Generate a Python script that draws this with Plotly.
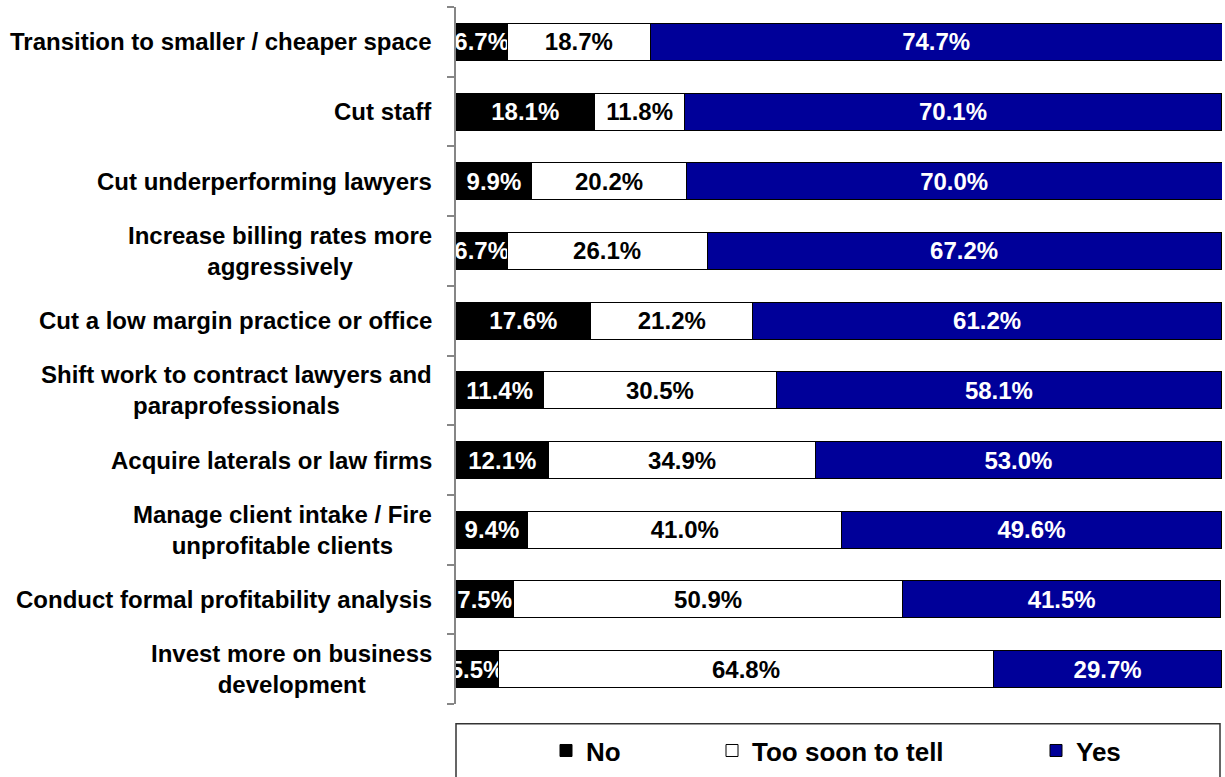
import plotly.graph_objects as go

# Survey responses: share of firms for each cost / growth measure
categories = [
    "Transition to smaller / cheaper space",
    "Cut staff",
    "Cut underperforming lawyers",
    "Increase billing rates more<br>aggressively",
    "Cut a low margin practice or office",
    "Shift work to contract lawyers and<br>paraprofessionals",
    "Acquire laterals or law firms",
    "Manage client intake / Fire<br>unprofitable clients",
    "Conduct formal profitability analysis",
    "Invest more on business<br>development",
]
no_vals = [6.7, 18.1, 9.9, 6.7, 17.6, 11.4, 12.1, 9.4, 7.5, 5.5]
soon_vals = [18.7, 11.8, 20.2, 26.1, 21.2, 30.5, 34.9, 41.0, 50.9, 64.8]
yes_vals = [74.7, 70.1, 70.0, 67.2, 61.2, 58.1, 53.0, 49.6, 41.5, 29.7]

series = [
    ("No", no_vals, "#000000", "#ffffff", "legend"),
    ("Too soon to tell", soon_vals, "#ffffff", "#000000", "legend2"),
    ("Yes", yes_vals, "#000099", "#ffffff", "legend3"),
]

FONT = "Liberation Sans, Arial, sans-serif"
W, H = 1225, 777
M_L, M_R, M_T, M_B = 456, 3, 7, 67
plot_w = W - M_L - M_R
plot_h = H - M_T - M_B
n = len(categories)

fig = go.Figure()
for name, vals, fill, txt, leg in series:
    fig.add_trace(go.Bar(
        y=list(range(n)),
        x=vals,
        name=name,
        orientation="h",
        marker=dict(color=fill, line=dict(color="#000000", width=1)),
        texttemplate="%{x:.1f}%",
        textposition="inside",
        insidetextanchor="middle",
        constraintext="none",
        textangle=0,
        insidetextfont=dict(family=FONT, size=24, color=txt, weight="bold"),
        cliponaxis=True,
        legend=leg,
        hoverinfo="skip",
    ))

# Category labels on the left, right-aligned block with centred lines
for i, cat in enumerate(categories):
    fig.add_annotation(
        x=0, xref="paper", y=i, yref="y",
        text=cat, showarrow=False,
        xanchor="right", yanchor="middle", xshift=-22,
        align="center",
        font=dict(family=FONT, size=24, color="#000000", weight="bold"),
    )

# Legend frame
fig.add_shape(
    type="rect", xref="paper", yref="paper",
    x0=0, x1=(1220 - M_L) / plot_w,
    y0=-(730 - (H - M_B)) / plot_h, y1=-(790 - (H - M_B)) / plot_h,
    line=dict(color="#333333", width=1.5), fillcolor="rgba(0,0,0,0)",
)

leg_font = dict(family=FONT, size=26, color="#000000", weight="bold")
leg_y = -(757 - (H - M_B)) / plot_h
leg_common = dict(orientation="h", yanchor="middle", xanchor="left", y=leg_y,
                  font=leg_font, bgcolor="rgba(0,0,0,0)", borderwidth=0,
                  itemwidth=30)

# Tick marks sit on the boundaries between category rows
boundaries = [i - 0.5 for i in range(n + 1)]

fig.update_layout(
    width=W, height=H,
    margin=dict(l=M_L, r=M_R, t=M_T, b=M_B),
    paper_bgcolor="#ffffff", plot_bgcolor="#ffffff",
    barmode="stack", bargap=0.47,
    showlegend=True,
    legend=dict(x=(546 - M_L) / plot_w, **leg_common),
    legend2=dict(x=(712 - M_L) / plot_w, **leg_common),
    legend3=dict(x=(1036 - M_L) / plot_w, **leg_common),
    xaxis=dict(range=[0, 100.1], visible=False, fixedrange=True),
    yaxis=dict(
        range=[n - 0.5, -0.5],
        tickmode="array", tickvals=boundaries,
        showticklabels=False,
        ticks="outside", ticklen=7,
        tickcolor="#868686", tickwidth=1.5,
        showline=True, linecolor="#868686", linewidth=1.5,
        showgrid=False, zeroline=False, fixedrange=True,
    ),
    font=dict(family=FONT),
)

fig.write_html("out.html")
